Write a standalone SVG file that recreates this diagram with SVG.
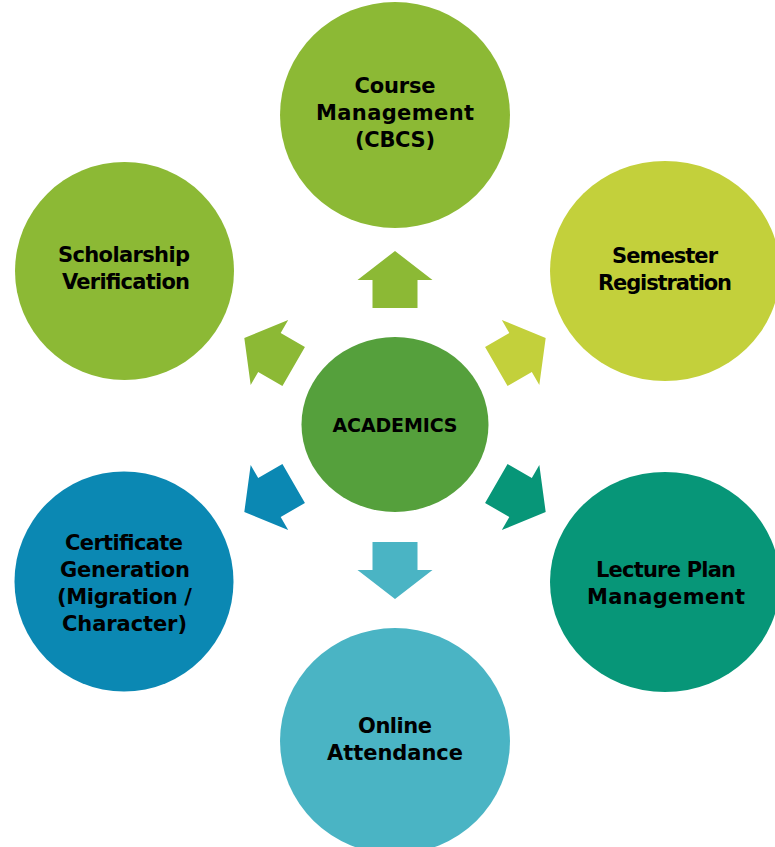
<svg xmlns="http://www.w3.org/2000/svg" width="775" height="847" viewBox="0 0 775 847">
<style>
text{font-family:"DejaVu Sans","Liberation Sans",sans-serif;font-weight:bold;font-size:21px;fill:#000;text-anchor:middle}
.c{font-size:19px}
</style>
<defs>
<polygon id="arr" points="-22.5,-117 -22.5,-145 -37.5,-145 0,-174 37.5,-145 22.5,-145 22.5,-117"/>
</defs>
<rect width="775" height="847" fill="#fff"/>
<g id="connectors" transform="translate(395,425)">
<use href="#arr" fill="#8CB935"/>
<use href="#arr" fill="#C3D03B" transform="rotate(60)"/>
<use href="#arr" fill="#079678" transform="rotate(120)"/>
<use href="#arr" fill="#4AB4C4" transform="rotate(180)"/>
<use href="#arr" fill="#0B88B3" transform="rotate(240)"/>
<use href="#arr" fill="#8CB935" transform="rotate(300)"/>
</g>
<g id="academics">
<ellipse cx="395" cy="424.5" rx="93.5" ry="87.5" fill="#55A03C"/>
<text class="c" x="395" y="432" textLength="125">ACADEMICS</text>
</g>
<g id="course">
<ellipse cx="395" cy="115" rx="115" ry="113" fill="#8CB935"/>
<text x="395" y="93" textLength="81">Course</text>
<text x="395" y="120" textLength="158">Management</text>
<text x="395" y="147" textLength="80">(CBCS)</text>
</g>
<g id="semester">
<ellipse cx="665" cy="271" rx="115" ry="110" fill="#C3D03B"/>
<text x="665" y="263" textLength="106">Semester</text>
<text x="665" y="290" textLength="134">Registration</text>
</g>
<g id="lecture">
<ellipse cx="665" cy="582" rx="115" ry="110" fill="#079678"/>
<text x="666" y="577" textLength="140">Lecture Plan</text>
<text x="666" y="604" textLength="158">Management</text>
</g>
<g id="attendance">
<ellipse cx="395" cy="741" rx="115" ry="113" fill="#4AB4C4"/>
<text x="395" y="733" textLength="74">Online</text>
<text x="395" y="760" textLength="136">Attendance</text>
</g>
<g id="certificate">
<ellipse cx="124" cy="581.5" rx="109.5" ry="110" fill="#0B88B3"/>
<text x="124" y="550" textLength="118">Certificate</text>
<text x="125" y="577" textLength="130">Generation</text>
<text x="124.5" y="604" textLength="135">(Migration /</text>
<text x="124.5" y="631" textLength="125">Character)</text>
</g>
<g id="scholarship">
<ellipse cx="124.5" cy="271" rx="109.5" ry="109" fill="#8CB935"/>
<text x="124" y="262" textLength="132">Scholarship</text>
<text x="126" y="289" textLength="128">Verification</text>
</g>
</svg>
